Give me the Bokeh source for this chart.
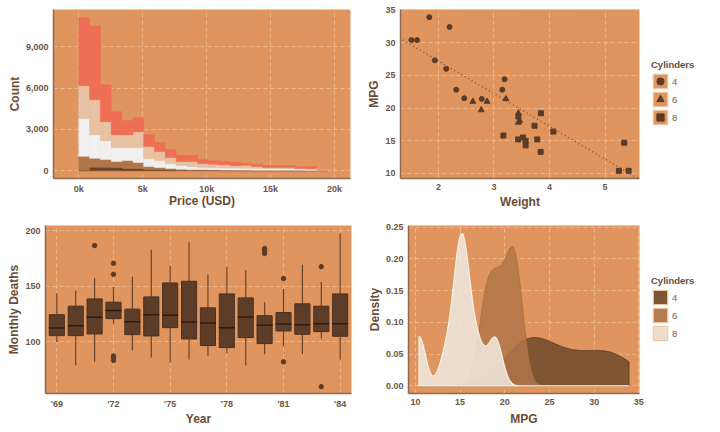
import numpy as np
from bokeh.plotting import figure
from bokeh.layouts import column, row
from bokeh.models import (ColumnDataSource, Legend, LegendItem, FixedTicker,
                          NumeralTickFormatter, Slope)
from bokeh.embed import file_html
from bokeh.resources import INLINE

# ---------------- data ----------------
# Histogram of diamond prices, stacked by cut (bottom -> top)
bin_left = [0, 846, 1692, 2538, 3384, 4230, 5076, 5922, 6768, 7614, 8460, 9306,
            10152, 10998, 11844, 12690, 13536, 14382, 15228, 16074, 16920, 17766, 18612]
bin_width = 846
cut_names = ["Fair", "Good", "Very Good", "Premium", "Ideal"]
fair = [40, 260, 260, 240, 166, 166, 94, 90, 60, 40, 30, 25, 20, 18, 15, 15, 12, 12, 10, 0, 10, 10, 0]
good = [1016, 651, 557, 432, 579, 434, 217, 150, 106, 80, 70, 65, 60, 52, 45, 40, 38, 33, 30, 35, 25, 20, 0]
very_good = [2747, 1713, 1373, 1013, 940, 1085, 579, 505, 362, 263, 211, 150, 160, 147, 140, 135, 130, 125, 125, 125, 105, 90, 40]
premium = [2364, 2531, 1375, 939, 939, 1155, 867, 651, 434, 289, 361, 288, 240, 217, 183, 210, 131, 70, 75, 80, 26, 30, 0]
ideal = [4938, 5350, 2675, 1663, 1014, 1014, 867, 650, 578, 434, 434, 289, 265, 238, 239, 150, 144, 143, 143, 143, 145, 161, 0]
price_ticks = [0, 5000, 10000, 15000, 20000]
price_tick_labels = ["0k", "5k", "10k", "15k", "20k"]
count_ticks = [0, 3000, 6000, 9000]

# mtcars
wt = [2.620, 2.875, 2.320, 3.215, 3.440, 3.460, 3.570, 3.190, 3.150, 3.440, 3.440,
      4.070, 3.730, 3.780, 5.250, 5.424, 5.345, 2.200, 1.615, 1.835, 2.465, 3.520,
      3.435, 3.840, 3.845, 1.935, 2.140, 1.513, 3.170, 2.770, 3.570, 2.780]
mpg = [21.0, 21.0, 22.8, 21.4, 18.7, 18.1, 14.3, 24.4, 22.8, 19.2, 17.8, 16.4, 17.3,
       15.2, 10.4, 10.4, 14.7, 32.4, 30.4, 33.9, 21.5, 15.5, 15.2, 13.3, 19.2, 27.3,
       26.0, 30.4, 15.8, 19.7, 15.0, 21.4]
cyl = [6, 6, 4, 6, 8, 6, 8, 4, 4, 6, 6, 8, 8, 8, 8, 8, 8, 4, 4, 4, 4, 8, 8, 8, 8, 4,
       4, 4, 8, 6, 8, 4]
cyl_levels = [4, 6, 8]
fit_intercept = 37.2
fit_slope = -5.0

# Monthly driver deaths by year (box statistics)
years = [69, 70, 71, 72, 73, 74, 75, 76, 77, 78, 79, 80, 81, 82, 83, 84]
q1 = [105.4, 105.4, 106.9, 120.7, 106.3, 105.1, 112.6, 102.4, 96.4, 94.6, 103.6, 98.2, 109.6, 106.6, 109.0, 104.8]
med = [112.3, 114.4, 121.9, 128.1, 118.0, 124.3, 123.7, 117.7, 116.8, 112.6, 122.2, 114.7, 115.9, 115.3, 116.2, 116.2]
q3 = [124.3, 132.0, 138.6, 135.6, 129.3, 140.4, 153.0, 154.5, 130.5, 143.1, 139.5, 123.4, 126.3, 134.1, 132.0, 143.1]
wlo = [99.7, 78.7, 81.7, 116.2, 91.9, 85.6, 80.8, 83.8, 87.1, 89.8, 78.7, 88.6, 95.8, 88.9, 102.7, 83.8]
whi = [144.0, 146.0, 157.5, 149.4, 158.7, 183.0, 168.6, 189.8, 160.8, 167.7, 164.7, 135.6, 147.6, 169.5, 153.9, 197.6]
out_year = [71, 72, 72, 72, 72, 72, 80, 80, 80, 81, 81, 83, 83]
out_val = [186.8, 170.7, 160.8, 87.0, 85.0, 83.0, 184.1, 182.3, 179.6, 156.9, 81.7, 167.7, 59.3]
year_ticks = [69, 72, 75, 78, 81, 84]
year_labels = ["'69", "'72", "'75", "'78", "'81", "'84"]

# ---------------- style ----------------
FONT = "Liberation Sans"
BG = "#E0955E"
GRID = "#ECB78D"
AXIS = "#8A6A52"
TICK = "#6E5444"
TITLE = "#6A4A35"
KEYLINE = "#EFC6A4"
PT = "#5A3B27"
NAN = [float("nan")]
MARKERS = {4: ("circle", 5), 6: ("triangle", 6), 8: ("square", 5)}


def style(p, xlabel, ylabel, xstand=0):
    p.background_fill_color = BG
    p.border_fill_color = "white"
    p.outline_line_color = None
    for ax in list(p.xaxis) + list(p.yaxis):
        ax.axis_line_color = AXIS
        ax.axis_line_width = 1.5
        ax.major_tick_line_color = None
        ax.minor_tick_line_color = None
        ax.major_tick_out = 0
        ax.major_tick_in = 0
        ax.minor_tick_out = 0
        ax.major_label_text_font = FONT
        ax.major_label_text_font_style = "bold"
        ax.major_label_text_font_size = "9px"
        ax.major_label_text_color = TICK
        ax.axis_label_text_font = FONT
        ax.axis_label_text_font_style = "bold"
        ax.axis_label_text_font_size = "12px"
        ax.axis_label_text_color = TITLE
        ax.major_label_standoff = 5
    p.xaxis.axis_label_standoff = xstand
    p.yaxis.axis_label_standoff = 1
    p.xaxis.axis_label = xlabel
    p.yaxis.axis_label = ylabel
    for g in list(p.xgrid) + list(p.ygrid):
        g.grid_line_color = GRID
        g.grid_line_dash = "4 3"
        g.grid_line_width = 1


dens_fill = {4: "#6D4A2B", 6: "#B17649", 8: "#F0EADF"}
dens_line = {4: "#553620", 6: "#A56D43", 8: "#F7F1EA"}
key_fill = {4: "#7E5533", 6: "#B87B4D", 8: "#EEDDCC"}


def legend_figure(height, loc, kind):
    f = figure(width=64, height=height, x_range=(0, 1), y_range=(0, 1),
               min_border_left=0, min_border_right=0, min_border_top=0, min_border_bottom=0,
               toolbar_location=None, output_backend="svg")
    f.axis.visible = False
    f.grid.visible = False
    f.outline_line_color = None
    f.background_fill_color = "white"
    f.border_fill_color = "white"
    items = []
    for c in cyl_levels:
        if kind == "scatter":
            bg = f.quad(left=NAN, right=NAN, top=NAN, bottom=NAN, fill_color=BG,
                        line_color=KEYLINE, line_width=1.2)
            m, s = MARKERS[c]
            mk = f.scatter(NAN, NAN, marker=m, size=s, fill_color=PT, line_color=PT)
            items.append(LegendItem(label=str(c), renderers=[bg, mk]))
        else:
            kr = f.quad(left=NAN, right=NAN, top=NAN, bottom=NAN, fill_color=key_fill[c],
                        line_color=KEYLINE, line_width=1.2)
            items.append(LegendItem(label=str(c), renderers=[kr]))
    lg = Legend(items=items, title="Cylinders", location=loc,
                title_text_font=FONT, title_text_font_style="bold",
                title_text_font_size="9.5px", title_text_color=TITLE,
                title_standoff=2,
                label_text_font=FONT, label_text_font_size="9.5px",
                label_text_color="#7A6050", label_standoff=3,
                glyph_width=18, glyph_height=18, label_height=18,
                spacing=-1, padding=0, margin=0,
                background_fill_alpha=0, border_line_color=None)
    f.add_layout(lg, "center")
    return f


# ---------------- panel 1: histogram ----------------
p1 = figure(width=360, height=220, x_range=(-1980, 21250), y_range=(-555, 11700),
            min_border_left=53, min_border_right=10, min_border_top=8, min_border_bottom=42,
            toolbar_location=None, output_backend="svg")
centers = [b + bin_width / 2 for b in bin_left]
src1 = ColumnDataSource(dict(x=centers, Fair=fair, Good=good, VeryGood=very_good,
                             Premium=premium, Ideal=ideal))
hist_colors = ["#6B4226", "#B07548", "#F0F0F0", "#E8C2A2", "#EF6E56"]
p1.vbar_stack(["Fair", "Good", "VeryGood", "Premium", "Ideal"], x="x", width=bin_width,
              source=src1, fill_color=hist_colors, line_color=hist_colors, line_width=0.5)
style(p1, "Price (USD)", "Count", xstand=-3)
p1.xaxis.ticker = FixedTicker(ticks=price_ticks)
p1.xaxis.major_label_overrides = {t: l for t, l in zip(price_ticks, price_tick_labels)}
p1.yaxis.ticker = FixedTicker(ticks=count_ticks)
p1.yaxis.formatter = NumeralTickFormatter(format="0,0")

# ---------------- panel 2: scatter ----------------
p2 = figure(width=288, height=220, x_range=(1.317, 5.62), y_range=(9.225, 35.075),
            min_border_left=40, min_border_right=9, min_border_top=9, min_border_bottom=42,
            toolbar_location=None, output_backend="svg")
style(p2, "Weight", "MPG", xstand=2)
p2.add_layout(Slope(gradient=fit_slope, y_intercept=fit_intercept, line_color="#6A4A35",
                    line_alpha=0.85, line_width=1.4, line_dash="1 3"))
for c in cyl_levels:
    xs = [w for w, k in zip(wt, cyl) if k == c]
    ys = [m for m, k in zip(mpg, cyl) if k == c]
    m, s = MARKERS[c]
    p2.scatter(xs, ys, marker=m, size=s, fill_color=PT, line_color=PT)
p2.xaxis.ticker = FixedTicker(ticks=[2, 3, 4, 5])
p2.yaxis.ticker = FixedTicker(ticks=[10, 15, 20, 25, 30, 35])
leg2 = legend_figure(220, (3, 52), "scatter")

# ---------------- panel 3: box plots ----------------
p3 = figure(width=360, height=212, x_range=(68.4, 84.6), y_range=(53.1, 204.9),
            min_border_left=45, min_border_right=9, min_border_top=5, min_border_bottom=39,
            toolbar_location=None, output_backend="svg")
style(p3, "Year", "Monthly Deaths", xstand=0)
BOXF = "#5D3D28"
src3 = ColumnDataSource(dict(x=years, q1=q1, med=med, q3=q3, lo=wlo, hi=whi))
p3.segment(x0="x", y0="q3", x1="x", y1="hi", source=src3, line_color="#6B4429", line_width=1.2)
p3.segment(x0="x", y0="lo", x1="x", y1="q1", source=src3, line_color="#6B4429", line_width=1.2)
p3.vbar(x="x", width=0.8, bottom="q1", top="q3", source=src3, fill_color=BOXF,
        line_color="#4A3120", line_width=1)
p3.rect(x="x", y="med", width=0.8, height=0.0001, source=src3, line_color="#2B1B12",
        line_width=1.5, fill_color=None)
p3.scatter(out_year, out_val, marker="circle", size=4.5, fill_color=BOXF, line_color=BOXF)
p3.xaxis.ticker = FixedTicker(ticks=year_ticks)
p3.xaxis.major_label_overrides = {t: l for t, l in zip(year_ticks, year_labels)}
p3.yaxis.ticker = FixedTicker(ticks=[100, 150, 200])

# ---------------- panel 4: densities ----------------
p4 = figure(width=288, height=212, x_range=(9.225, 35.075), y_range=(-0.012, 0.2526),
            min_border_left=48, min_border_right=9, min_border_top=5, min_border_bottom=38,
            toolbar_location=None, output_backend="svg")
style(p4, "MPG", "Density", xstand=4)


def kde_nrd0(vals, grid):
    v = np.asarray(vals, float)
    n = len(v)
    sd = v.std(ddof=1)
    q75, q25 = np.percentile(v, [75, 25])
    bw = 0.9 * min(sd, (q75 - q25) / 1.34) * n ** -0.2
    z = (grid[:, None] - v[None, :]) / bw
    return np.exp(-0.5 * z ** 2).sum(axis=1) / (n * bw * np.sqrt(2 * np.pi))


grid = np.linspace(min(mpg), max(mpg), 512)
for c in cyl_levels:
    vals = [m for m, k in zip(mpg, cyl) if k == c]
    d = kde_nrd0(vals, grid)
    xs = np.concatenate([[grid[0]], grid, [grid[-1]]])
    ys = np.concatenate([[0.0], d, [0.0]])
    p4.patch(xs, ys, fill_color=dens_fill[c], fill_alpha=0.85, line_color=dens_line[c],
             line_width=1.2 if c == 8 else 0.8)
p4.xaxis.ticker = FixedTicker(ticks=[10, 15, 20, 25, 30, 35])
p4.yaxis.ticker = FixedTicker(ticks=[0, 0.05, 0.10, 0.15, 0.20, 0.25])
p4.yaxis.formatter = NumeralTickFormatter(format="0.00")
leg4 = legend_figure(212, (3, 51), "density")

layout = column(row(p1, p2, leg2), row(p3, p4, leg4))
open("out.html", "w").write(file_html(layout, INLINE))
